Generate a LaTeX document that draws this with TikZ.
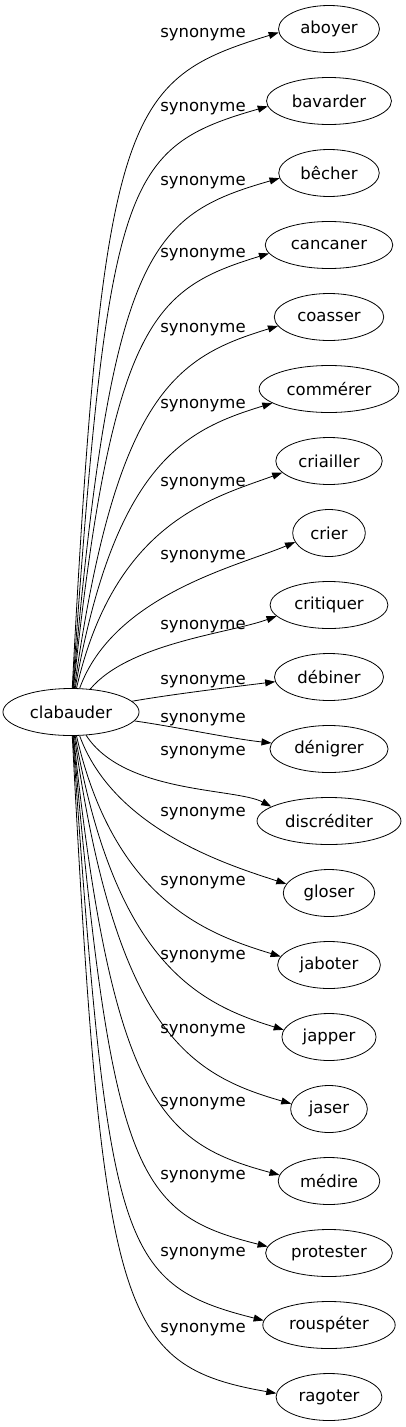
\documentclass[tikz,border=0pt]{standalone}
\usepackage{fontspec}
\setmainfont{DejaVu Sans}
\usetikzlibrary{arrows.meta,shapes.geometric}

\begin{document}
\begin{tikzpicture}[x=1pt, y=1pt, every node/.style={font=\fontsize{16.5}{19}\selectfont},
    word/.style={draw, ellipse, line width=0.8pt, inner xsep=7pt, inner ysep=2pt, minimum height=47pt, minimum width=72pt},
    syn/.style={inner sep=0pt},
    link/.style={-{Triangle[length=10pt,width=7pt]}, line width=0.8pt}]
      \useasboundingbox (0,0) rectangle (405,-1427);
      \node[word] (clab) at (71,-712)  {clabauder};
      \node[word] (aboy) at (329,-29)   {aboyer};
      \node[word] (bava) at (329,-101)  {bavarder};
      \node[word] (bech) at (329,-173)  {bêcher};
      \node[word] (canc) at (329,-245)  {cancaner};
      \node[word] (coas) at (329,-317)  {coasser};
      \node[word] (comm) at (329,-389)  {commérer};
      \node[word] (cria) at (329,-461)  {criailler};
      \node[word] (crie) at (329,-533)  {crier};
      \node[word] (crit) at (329,-605)  {critiquer};
      \node[word] (debi) at (329,-677)  {débiner};
      \node[word] (deni) at (329,-749)  {dénigrer};
      \node[word] (disc) at (329,-821)  {discréditer};
      \node[word] (glos) at (329,-893)  {gloser};
      \node[word] (jabo) at (329,-965)  {jaboter};
      \node[word] (japp) at (329,-1037) {japper};
      \node[word] (jase) at (329,-1109) {jaser};
      \node[word] (medi) at (329,-1181) {médire};
      \node[word] (prot) at (329,-1253) {protester};
      \node[word] (rous) at (329,-1325) {rouspéter};
      \node[word] (rago) at (329,-1397) {ragoter};
      \node[syn] (s1)  at (203,-35)   {synonyme};
      \node[syn] (s2)  at (203,-109)  {synonyme};
      \node[syn] (s3)  at (203,-183)  {synonyme};
      \node[syn] (s4)  at (203,-255)  {synonyme};
      \node[syn] (s5)  at (203,-330)  {synonyme};
      \node[syn] (s6)  at (203,-406)  {synonyme};
      \node[syn] (s7)  at (203,-484)  {synonyme};
      \node[syn] (s8)  at (203,-557)  {synonyme};
      \node[syn] (s9)  at (203,-627)  {synonyme};
      \node[syn] (s10) at (203,-682)  {synonyme};
      \node[syn] (s11) at (203,-720)  {synonyme};
      \node[syn] (s12) at (203,-753)  {synonyme};
      \node[syn] (s13) at (203,-814)  {synonyme};
      \node[syn] (s14) at (203,-883)  {synonyme};
      \node[syn] (s15) at (203,-957)  {synonyme};
      \node[syn] (s16) at (203,-1031) {synonyme};
      \node[syn] (s17) at (203,-1104) {synonyme};
      \node[syn] (s18) at (203,-1177) {synonyme};
      \node[syn] (s19) at (203,-1254) {synonyme};
      \node[syn] (s20) at (203,-1330) {synonyme};
      \draw[link] (clab) to[out=87, in=197, out distance=580pt, in distance=160pt] (aboy.184);
      \draw[link] (clab) to[out=86, in=196, out distance=510pt, in distance=150pt] (bava.185);
      \draw[link] (clab) to[out=85, in=196, out distance=440pt, in distance=135pt] (bech.186);
      \draw[link] (clab) to[out=84, in=197, out distance=370pt, in distance=120pt] (canc.188);
      \draw[link] (clab) to[out=82, in=197, out distance=300pt, in distance=105pt] (coas.190);
      \draw[link] (clab) to[out=80, in=197, out distance=230pt, in distance=90pt] (comm.194);
      \draw[link] (clab) to[out=77, in=200, out distance=170pt, in distance=75pt] (cria.194);
      \draw[link] (clab) to[out=70, in=203, out distance=100pt, in distance=60pt] (crie.195);
      \draw[link] (clab) to[out=50, in=200, out distance=60pt, in distance=50pt] (crit.192);
      \draw[link] (clab) to[out=10, in=187, out distance=40pt, in distance=40pt] (debi.185);
      \draw[link] (clab) to[out=-8, in=174, out distance=40pt, in distance=40pt] (deni.174);
      \draw[link] (clab) to[out=-57, in=152, out distance=70pt, in distance=40pt] (disc.166);
      \draw[link] (clab) to[out=-70, in=162, out distance=100pt, in distance=60pt] (glos.168);
      \draw[link] (clab) to[out=-77, in=163, out distance=170pt, in distance=75pt] (jabo.170);
      \draw[link] (clab) to[out=-80, in=163, out distance=230pt, in distance=90pt] (japp.171);
      \draw[link] (clab) to[out=-82, in=164, out distance=300pt, in distance=105pt] (jase.172);
      \draw[link] (clab) to[out=-84, in=165, out distance=370pt, in distance=120pt] (medi.173);
      \draw[link] (clab) to[out=-85, in=166, out distance=440pt, in distance=135pt] (prot.174);
      \draw[link] (clab) to[out=-86, in=166, out distance=510pt, in distance=150pt] (rous.176);
      \draw[link] (clab) to[out=-87, in=170, out distance=580pt, in distance=160pt] (rago.176);
    \end{tikzpicture}
\end{document}
